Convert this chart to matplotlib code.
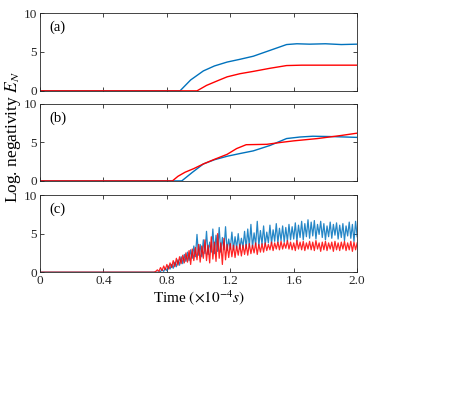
import numpy as np
import matplotlib
matplotlib.use("Agg")
import matplotlib.pyplot as plt

plt.rcParams['font.family'] = ['Liberation Serif', 'DejaVu Serif']
plt.rcParams['mathtext.fontset'] = 'stix'

BLUE = "#0072BD"
RED = "#FF0000"

# panel (a)
t_a_blue = [0.0, 0.883, 0.95, 1.03, 1.10, 1.18, 1.26, 1.345, 1.45, 1.555, 1.62, 1.70, 1.80, 1.90, 2.0]
v_a_blue = [0.0, 0.0, 1.4, 2.56, 3.2, 3.7, 4.05, 4.45, 5.2, 5.95, 6.05, 6.0, 6.05, 5.95, 6.0]
t_a_red = [0.0, 0.99, 1.05, 1.12, 1.18, 1.26, 1.345, 1.45, 1.555, 1.65, 1.80, 2.0]
v_a_red = [0.0, 0.0, 0.7, 1.3, 1.8, 2.2, 2.5, 2.9, 3.25, 3.3, 3.3, 3.3]

# panel (b)
t_b_blue = [0.0, 0.894, 0.96, 1.03, 1.10, 1.18, 1.26, 1.345, 1.45, 1.555, 1.64, 1.72, 1.85, 2.0]
v_b_blue = [0.0, 0.0, 1.1, 2.2, 2.75, 3.2, 3.55, 3.9, 4.6, 5.5, 5.7, 5.8, 5.75, 5.65]
t_b_red = [0.0, 0.835, 0.87, 0.915, 0.97, 1.03, 1.10, 1.18, 1.24, 1.30, 1.43, 1.52, 1.60, 1.75, 1.90, 2.0]
v_b_red = [0.0, 0.0, 0.6, 1.13, 1.6, 2.2, 2.8, 3.45, 4.2, 4.7, 4.75, 5.0, 5.2, 5.5, 5.9, 6.2]

# panel (c), fast oscillating signal sampled every 0.01
v_c_blue = [0, 0, 0, 0, 0.1, 0.3, 0.1, 0.5,
            0.2, 0.8, 0.4, 1.0, 0.5, 1.3, 0.7, 1.6, 0.9, 2.0,
            1.1, 2.3, 1.4, 2.6, 1.5, 2.9, 1.8, 3.4, 2.0, 4.9,
            2.2, 3.6, 2.0, 4.2, 2.4, 5.3, 2.3, 3.9, 2.6, 5.6,
            2.4, 4.8, 2.7, 5.8, 2.6, 4.5, 2.9, 5.9, 2.8, 4.3,
            3.0, 5.2, 2.9, 4.6, 3.1, 5.0, 3.0, 4.4, 3.2, 5.3,
            3.1, 5.6, 3.3, 6.2, 3.2, 5.1, 3.5, 6.6, 3.4, 5.4,
            3.6, 6.0, 3.5, 5.2, 3.8, 6.1, 3.7, 5.5, 4.0, 6.3,
            3.8, 5.7, 4.1, 6.0, 3.9, 5.8, 4.0, 6.2, 4.2, 5.9,
            4.3, 6.4, 4.0, 6.1, 4.5, 6.6, 4.2, 6.3, 4.6, 6.8,
            4.4, 6.5, 4.7, 6.7, 4.3, 6.2, 4.9, 6.6, 4.5, 6.3,
            4.2, 6.0, 4.6, 6.5, 4.4, 6.2, 4.8, 6.4, 4.3, 6.1,
            4.5, 6.3, 4.1, 6.0, 4.7, 6.5, 4.4, 6.2, 4.0, 6.6,
            4.6]
v_c_red = [0, 0.1, 0.3, 0.1, 0.6, 0.2, 0.8, 0.3,
           1.0, 0.4, 1.2, 0.6, 1.5, 0.7, 1.8, 0.9, 2.0, 1.1,
           2.2, 1.2, 2.5, 1.3, 2.8, 1.0, 3.0, 1.5, 3.2, 1.6,
           3.6, 1.3, 3.4, 1.8, 4.2, 1.5, 3.5, 1.2, 4.6, 1.7,
           3.9, 1.4, 5.0, 1.8, 3.8, 1.0, 4.4, 1.6, 3.6, 1.9,
           3.7, 2.0, 3.5, 1.9, 3.4, 2.2, 3.6, 2.1, 3.5, 2.3,
           3.6, 2.2, 3.7, 2.4, 3.5, 2.5, 3.8, 2.3, 3.6, 2.6,
           3.7, 2.6, 3.8, 2.8, 3.6, 2.9, 3.9, 2.8, 3.8, 3.0,
           3.9, 2.9, 4.0, 3.0, 3.8, 3.1, 4.1, 3.0, 3.9, 2.9,
           3.8, 2.8, 4.1, 3.0, 3.9, 2.9, 4.0, 2.8, 3.8, 3.0,
           4.0, 2.9, 3.9, 2.8, 4.1, 3.0, 3.8, 2.7, 3.9, 2.9,
           4.0, 2.8, 3.8, 3.0, 3.9, 2.7, 4.0, 2.9, 3.8, 2.8,
           3.9, 3.0, 4.0, 2.8, 3.8, 2.9, 4.0, 2.7, 3.9, 2.9,
           3.8]
t_c = [0.0] + [round(0.72 + 0.01 * i, 2) for i in range(len(v_c_blue))]
v_c_blue = [0.0] + v_c_blue
v_c_red = [0.0] + v_c_red

xticks = [0, 0.4, 0.8, 1.2, 1.6, 2.0]
xticklabels = ["0", "0.4", "0.8", "1.2", "1.6", "2.0"]

fig = plt.figure(figsize=(4.63, 3.95), dpi=100)
L, W = 0.0864, 0.685
boxes = [(0.770, 0.197), (0.542, 0.195), (0.311, 0.195)]
axes = [fig.add_axes([L, b, W, h]) for b, h in boxes]

axes[0].plot(t_a_blue, v_a_blue, color=BLUE, lw=1.0)
axes[0].plot(t_a_red, v_a_red, color=RED, lw=1.0)
axes[1].plot(t_b_blue, v_b_blue, color=BLUE, lw=1.0)
axes[1].plot(t_b_red, v_b_red, color=RED, lw=1.0)
axes[2].plot(t_c, v_c_blue, color=BLUE, lw=0.9, alpha=0.85)
axes[2].plot(t_c, v_c_red, color=RED, lw=0.9, alpha=0.85)

for ax, lab in zip(axes, ["(a)", "(b)", "(c)"]):
    ax.set_xlim(0, 2.0)
    ax.set_ylim(0, 10)
    ax.set_yticks([0, 5, 10])
    ax.set_xticks(xticks)
    ax.tick_params(direction="in", top=True, right=True, labelsize=9.5,
                   length=3, width=0.6, colors="#262626", pad=2)
    for s in ax.spines.values():
        s.set_linewidth(0.6)
        s.set_color("#262626")
    ax.text(0.03, 0.9, lab, transform=ax.transAxes, fontsize=10.5,
            va="top", ha="left")

axes[0].set_xticklabels([])
axes[1].set_xticklabels([])
axes[2].set_xticklabels(xticklabels)
axes[2].set_xlabel(r"Time $(\times10^{-4}s)$", fontsize=11, labelpad=1)

fig.text(0.028, 0.652, r"Log. negativity $E_N$", rotation=90, fontsize=12.5,
         ha="center", va="center")

fig.savefig("out.png", dpi=100)
